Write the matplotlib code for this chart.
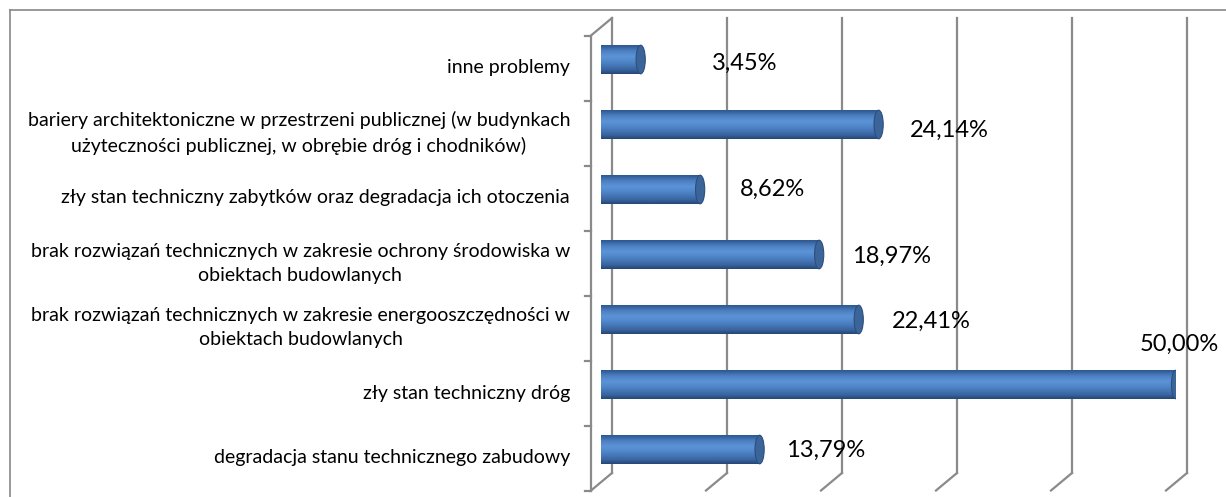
import numpy as np
import matplotlib
matplotlib.use("Agg")
import matplotlib.pyplot as plt
from matplotlib.patches import Ellipse
from matplotlib.lines import Line2D
from matplotlib.colors import LinearSegmentedColormap
from matplotlib.transforms import ScaledTranslation

plt.rcParams['font.family'] = ['Lato', 'DejaVu Sans']

# data (bottom to top)
categories = [
    "degradacja stanu technicznego zabudowy",
    "zły stan techniczny dróg",
    "brak rozwiązań technicznych w zakresie energooszczędności w\nobiektach budowlanych",
    "brak rozwiązań technicznych w zakresie ochrony środowiska w\nobiektach budowlanych",
    "zły stan techniczny zabytków oraz degradacja ich otoczenia",
    "bariery architektoniczne w przestrzeni publicznej (w budynkach\nużyteczności publicznej, w obrębie dróg i chodników)",
    "inne problemy",
]
values = [13.79, 50.00, 22.41, 18.97, 8.62, 24.14, 3.45]
value_labels = ["13,79%", "50,00%", "22,41%", "18,97%", "8,62%", "24,14%", "3,45%"]
x_ticks = [0, 10, 20, 30, 40, 50]

# label offsets in pixels (dx from bar end, dy)
label_dx = [22, -40, 29, 29, 36, 27, 67]
label_dy = [-1, 40, -2, -2, 0, -6, -4]

W, H, DPI = 1226, 497, 100
fig = plt.figure(figsize=(W / DPI, H / DPI), dpi=DPI)
ax = fig.add_axes([601 / W, 15 / H, 575 / W, 455 / H])
ax.set_xlim(0, 50)
ax.set_ylim(-0.5, 6.5)
ax.axis('off')

grid_c = '#8a8a8a'
px = 1 / DPI
back = ax.transData + ScaledTranslation(11 * px, 9 * px, fig.dpi_scale_trans)
front = ax.transData + ScaledTranslation(-10 * px, -8.5 * px, fig.dpi_scale_trans)

# back wall gridlines + floor slants
for t in x_ticks:
    ax.plot([t, t], [-0.5, 6.5], color=grid_c, lw=1.6, transform=back, clip_on=False, zorder=1)
    xb, yb = back.transform((t, -0.5))
    xf, yf = front.transform((t, -0.5))
    fig.add_artist(Line2D([xb / W, xf / W], [yb / H, yf / H], color=grid_c, lw=1.6, zorder=1))

# left axis (front edge) with ticks
ax.plot([0, 0], [-0.5, 6.5], color=grid_c, lw=1.6, transform=front, clip_on=False, zorder=1)
xb, yb = back.transform((0, 6.5))
xf, yf = front.transform((0, 6.5))
fig.add_artist(Line2D([xb / W, xf / W], [yb / H, yf / H], color=grid_c, lw=1.6, zorder=1))
for b in np.arange(-0.5, 7.0, 1.0):
    x0, y0 = front.transform((0, b))
    fig.add_artist(Line2D([(x0 - 6) / W, x0 / W], [y0 / H, y0 / H], color=grid_c, lw=1.6, zorder=1))

# cylinder bars
cyl = LinearSegmentedColormap.from_list('cyl', [
    (0.0, '#264774'), (0.15, '#3a66a2'), (0.45, '#5189cc'),
    (0.62, '#5b93d6'), (0.8, '#4d80c3'), (1.0, '#2d5890')])
grad = np.linspace(0, 1, 64).reshape(-1, 1)
bh = 0.44
cap_w = 0.8
bars = ax.barh(range(len(values)), values, height=bh, color='none', zorder=3)
for i, (rect, v) in enumerate(zip(bars, values)):
    y = rect.get_y()
    # left rounded end
    el = Ellipse((0, i), cap_w, bh, facecolor='none', edgecolor='none', zorder=3)
    ax.add_patch(el)
    for clip in (rect, el):
        im = ax.imshow(grad, cmap=cyl, extent=(-cap_w, v, y, y + bh), origin='lower',
                       aspect='auto', zorder=3, interpolation='bilinear')
        im.set_clip_path(clip)
    ax.add_patch(Ellipse((v, i), cap_w, bh, facecolor='#3b6498', edgecolor='#2b4f80',
                         lw=0.8, zorder=4))

ax.set_xlim(0, 50)
ax.set_ylim(-0.5, 6.5)

# value labels
for i, (v, lab) in enumerate(zip(values, value_labels)):
    off = ScaledTranslation((4 + label_dx[i]) * px, label_dy[i] * px, fig.dpi_scale_trans)
    ax.text(v, i, lab, transform=ax.transData + off, ha='left', va='center',
            fontsize=17, color='black', zorder=5, clip_on=False)

# category labels
for i, c in enumerate(categories):
    off = ScaledTranslation(-31 * px, -8.5 * px, fig.dpi_scale_trans)
    ax.text(0, i, c, transform=ax.transData + off, ha='right', va='center',
            multialignment='center', fontsize=14, color='black', linespacing=1.5,
            clip_on=False)

# chart border
fig.add_artist(Line2D([10 / W, 1], [1 - 10 / H, 1 - 10 / H], color='#878787', lw=1.2))
fig.add_artist(Line2D([10 / W, 10 / W], [0, 1 - 10 / H], color='#878787', lw=1.2))

fig.savefig('out.png', dpi=DPI)
